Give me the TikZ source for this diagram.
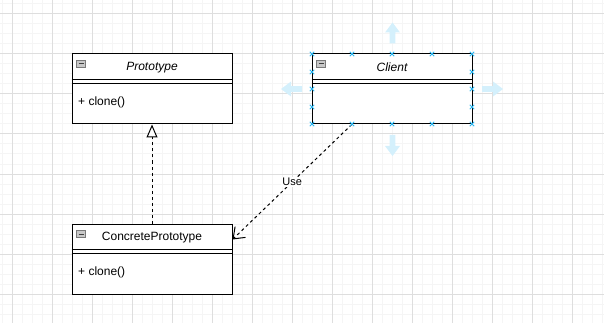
\documentclass[tikz,border=0pt]{standalone}
\usepackage{fontspec}
\setmainfont{Liberation Sans}
\usetikzlibrary{positioning,arrows.meta,calc}
\definecolor{handleblue}{HTML}{29B6F2}
\definecolor{iconfill}{HTML}{C8C8C8}
\definecolor{icondraw}{HTML}{7A7A7A}
\tikzset{
  minorgrid/.style={line width=1pt, black!4},
  majorgrid/.style={line width=1pt, black!13},
  classbox/.style={draw, line width=1pt, fill=white, minimum width=160pt, minimum height=70pt, inner sep=0pt},
  classline/.style={line width=1pt},
  classname/.style={inner sep=0pt, font=\fontsize{12}{14}\selectfont},
  member/.style={anchor=west, inner sep=0pt, font=\fontsize{12}{14}\selectfont},
  realize/.style={line width=1pt, dash pattern=on 3pt off 3pt, -{Triangle[open, length=13pt, width=11pt, fill=white]}},
  depend/.style={line width=1pt, dash pattern=on 3pt off 3pt, -{Straight Barb[length=10pt, width=15pt]}},
  edgelabel/.style={fill=white, inner sep=1pt, font=\fontsize{11}{13}\selectfont},
  collapse/.pic={
    \draw[icondraw, fill=iconfill, line width=0.8pt] (-4.5,-3.8) rectangle (4.5,3.8);
    \draw[black!75, line width=1pt] (-2.5,0) -- (2.5,0);
  },
  handlemark/.pic={
    \draw[handleblue, line width=0.9pt] (-2.2,-2.2) -- (2.2,2.2) (-2.2,2.2) -- (2.2,-2.2);
  },
  movearrow/.pic={
    \fill[handleblue!20] (0,0) -- (7.5,10) -- (2.8,10) -- (2.8,21) -- (-2.8,21) -- (-2.8,10) -- (-7.5,10) -- cycle;
  }
}

\begin{document}
\begin{tikzpicture}[x=1pt, y=-1pt]
  \useasboundingbox (0,0) rectangle (604,323);
  % background grid
  \foreach \x in {2,12,...,602} \draw[minorgrid] (\x,0) -- (\x,323);
  \foreach \y in {4,14,...,314} \draw[minorgrid] (0,\y) -- (604,\y);
  \foreach \x in {12,52,...,572} \draw[majorgrid] (\x,0) -- (\x,323);
  \foreach \y in {14,54,...,294} \draw[majorgrid] (0,\y) -- (604,\y);

  % move arrows round the selected class
  \pic at (392.5,22.5) {movearrow};
  \pic[rotate=180] at (392.5,156) {movearrow};
  \pic[rotate=90] at (281,89) {movearrow};
  \pic[rotate=-90] at (503,89) {movearrow};

  % classes
  \node[classbox] (proto) at (152,89) {};
  \node[classbox] (client) at (392,89) {};
  \node[classbox] (concrete) at (152,259) {};
  \foreach \c in {proto,client,concrete} {
    \draw[classline] ($(\c.north west)+(0,26)$) -- ($(\c.north east)+(0,26)$);
    \draw[classline] ($(\c.north west)+(0,30)$) -- ($(\c.north east)+(0,30)$);
    \pic at ($(\c.north west)+(9.5,10.5)$) {collapse};
  }
  \node[classname, font=\fontsize{12}{14}\selectfont\itshape] (protoname) at (152,67.5) {Prototype};
  \node[classname, font=\fontsize{12}{14}\selectfont\itshape] (clientname) at (392,67.5) {Client};
  \node[classname] (concretename) at (152,237.5) {ConcretePrototype};
  \node[member] (protoclone) at (78,102) {+ clone()};
  \node[member] (concreteclone) at (78,272) {+ clone()};

  % relations
  \draw[realize] (concrete.north) -- (proto.south);
  \draw[depend] ($(client.south west)!0.25!(client.south east)$) -- node[edgelabel] {Use} ($(concrete.north east)+(0,16)$);

  % selection handles
  \foreach \x in {312,352,392,432,472} {
    \pic at (\x,54) {handlemark};
    \pic at (\x,124) {handlemark};
  }
  \foreach \y in {72,89,107} {
    \pic at (312,\y) {handlemark};
    \pic at (472,\y) {handlemark};
  }
\end{tikzpicture}
\end{document}
